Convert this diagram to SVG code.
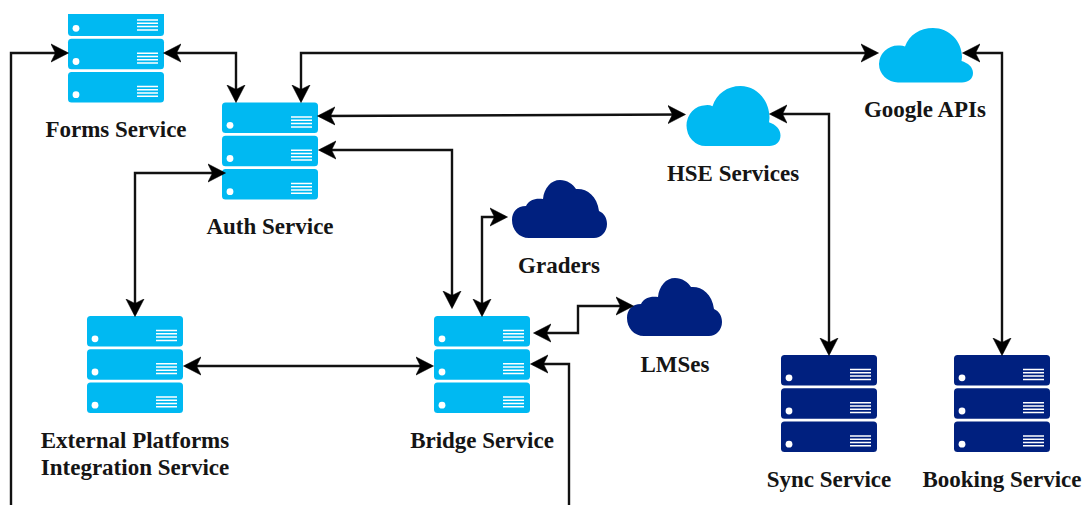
<svg xmlns="http://www.w3.org/2000/svg" xmlns:xlink="http://www.w3.org/1999/xlink" width="1083" height="505" viewBox="0 0 1083 505">
<style>
.light{fill:#00b9f2}
.dark{fill:#00207f}
.hole{fill:#fff}
.bars{stroke:#fff;stroke-width:1.5;fill:none}
.lbl{font-family:"Liberation Serif","Times New Roman",serif;font-weight:700;font-size:23px;fill:#151515;text-anchor:middle}
.conn{fill:none;stroke:#111;stroke-width:2.4;marker-end:url(#a)}
.both{marker-start:url(#a)}
</style>
<defs>
<marker id="a" markerUnits="userSpaceOnUse" markerWidth="22" markerHeight="22" refX="15" refY="10" orient="auto-start-reverse" viewBox="0 0 22 22">
<path d="M17.500 10 L0 1 L4.500 10 L0 19 Z" fill="#000" stroke="#000" stroke-width="0.6" stroke-linejoin="round"/>
</marker>
<g id="unit">
<rect width="96" height="30.5" rx="3.5"/>
<circle class="hole" cx="8" cy="22.800" r="3.400"/>
<path class="bars" d="M69 14.500H90M69 17.800H90M69 21.100H90M69 24.400H90"/>
</g>
<g id="server">
<use xlink:href="#unit" href="#unit"/>
<use xlink:href="#unit" href="#unit" y="33.2"/>
<use xlink:href="#unit" href="#unit" y="66.4"/>
</g>
<path id="cloudA" d="M20 54.500 A19 18.500 0 0 1 20 17.500 Q24 17 27 18.500 C31 7 42 0 55 0 C71 0 84 13 84 29 L83.500 33 C90 35 95 39 95 45 C95 51 90 54.500 84 54.500 Z"/>
<path id="cloudB" d="M17 58 C7 58 0 50 0 40 C0 32 5 26 14 26 C17 20 23 18 31 19 C32 8 39 0 48 0 C55 0 61 4 64 9 C74 8 85 15 87 31 C92 33 95 38 95 44 C95 52 89 58 82 58 Z"/>
<clipPath id="formsClip"><rect x="60" y="14" width="112" height="100"/></clipPath>
</defs>
<rect width="1083" height="505" fill="#fff"/>
<g id="node-forms">
<g clip-path="url(#formsClip)"><use class="light" xlink:href="#server" href="#server" x="68" y="5.500"/></g>
<text class="lbl" x="116" y="136.500">Forms Service</text>
</g>
<g id="node-auth">
<use class="light" xlink:href="#server" href="#server" x="222" y="102.500"/>
<text class="lbl" x="270" y="233.500">Auth Service</text>
</g>
<g id="node-external">
<use class="light" xlink:href="#server" href="#server" x="87" y="316"/>
<text class="lbl" x="135" y="447.500">External Platforms</text>
<text class="lbl" x="135" y="474.500">Integration Service</text>
</g>
<g id="node-bridge">
<use class="light" xlink:href="#server" href="#server" x="434" y="316"/>
<text class="lbl" x="482" y="447.500">Bridge Service</text>
</g>
<g id="node-sync">
<use class="dark" xlink:href="#server" href="#server" x="781" y="355"/>
<text class="lbl" x="829" y="486.500">Sync Service</text>
</g>
<g id="node-booking">
<use class="dark" xlink:href="#server" href="#server" x="954" y="355"/>
<text class="lbl" x="1002" y="486.500">Booking Service</text>
</g>
<g id="node-google">
<use class="light" xlink:href="#cloudA" href="#cloudA" x="878" y="28"/>
<text class="lbl" x="925" y="117">Google APIs</text>
</g>
<g id="node-hse">
<use class="light" xlink:href="#cloudA" href="#cloudA" transform="translate(685.500,86) scale(1,1.1)"/>
<text class="lbl" x="733" y="180.500">HSE Services</text>
</g>
<g id="node-graders">
<use class="dark" xlink:href="#cloudB" href="#cloudB" x="512" y="180"/>
<text class="lbl" x="559" y="272.500">Graders</text>
</g>
<g id="node-lmses">
<use class="dark" xlink:href="#cloudB" href="#cloudB" x="627" y="278"/>
<text class="lbl" x="675" y="371.500">LMSes</text>
</g>
<g id="connectors">
<path class="conn" d="M11 505V53H66"/>
<path class="conn both" d="M166 53H236V100"/>
<path class="conn both" d="M301 100V53H876"/>
<path class="conn both" d="M320 116L683 114.500"/>
<path class="conn both" d="M321 150H452V306"/>
<path class="conn both" d="M223 173H135V314"/>
<path class="conn both" d="M482 314V217H505"/>
<path class="conn both" d="M536 333H578V306H631"/>
<path class="conn" d="M569 505V364H533"/>
<path class="conn both" d="M186 366H431"/>
<path class="conn both" d="M772 114H829V353"/>
<path class="conn both" d="M965 53H1002V353"/>
</g>
</svg>
